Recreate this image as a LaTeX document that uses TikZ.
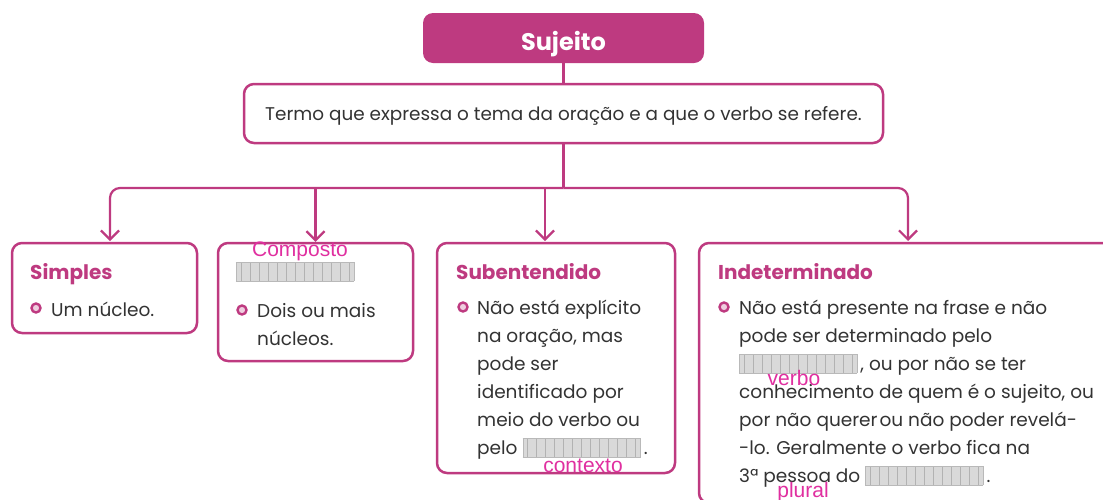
\documentclass[tikz,border=0pt]{standalone}
\usepackage{fontspec}
\setmainfont{Poppins}
\newfontfamily\rotulofont{Liberation Sans}
\usepackage{xcolor}
\usetikzlibrary{arrows.meta}

\definecolor{rosa}{HTML}{BE3A80}
\definecolor{rotulo}{HTML}{E02FA0}
\definecolor{texto}{HTML}{333333}

% lacuna cinza com listras
\newcommand{\lacuna}{\raisebox{-2pt}{\fboxsep=0pt\fboxrule=0.6pt\fcolorbox{gray!55}{gray!30}{\hbox to 117pt{\xleaders\hbox to 9pt{\hss{\color{gray!60}\vrule width .7pt height 18pt}\hss}\hfill}}}}

\begin{document}
\begin{tikzpicture}[x=1pt,y=-1pt]
\tikzset{>={Straight Barb[length=9pt,width=18pt]}}
\tikzstyle{linha}=[draw=rosa,line width=2.2pt]
\tikzstyle{caixa}=[draw=rosa,line width=2.5pt,rounded corners=10pt,fill=white,inner sep=0pt]
\tikzstyle{sujeitobox}=[fill=rosa,rounded corners=10pt,text=white,font=\fontsize{24}{28}\selectfont\bfseries,minimum width=281pt,minimum height=50pt,text height=24pt,text depth=0pt]
\tikzstyle{titulo}=[text=rosa,font=\fontsize{20}{24}\selectfont\bfseries,inner sep=0pt,anchor=base west]
\tikzstyle{corpo}=[text=texto,font=\fontsize{18.5}{28}\selectfont,align=left,inner sep=0pt,anchor=base west]
\tikzstyle{bolinha}=[circle,draw=rosa,line width=2.4pt,fill=rosa!25,minimum size=9pt,inner sep=0pt]
\tikzstyle{rotulo}=[text=rotulo,font=\rotulofont\fontsize{21}{24}\selectfont,inner sep=0pt]

\useasboundingbox (0,0) rectangle (1103,499);
\clip (0,0) rectangle (1103,499);

\node[sujeitobox] (sujeito) at (563.5,38) {Sujeito};
\node[caixa,minimum width=639pt,minimum height=59pt,text=texto,font=\fontsize{18.4}{22}\selectfont,text height=13pt,text depth=0pt] (definicao) at (563.5,113.5) {Termo que expressa o tema da oração e a que o verbo se refere.};

\node[caixa,minimum width=185pt,minimum height=90pt] (simples) at (104.5,288) {};
\node[caixa,minimum width=195pt,minimum height=118pt] (composto) at (315.5,302) {};
\node[caixa,minimum width=238pt,minimum height=230pt] (subentendido) at (556,358) {};
\node[caixa,minimum width=416pt,minimum height=260pt] (indeterminado) at (907,373) {};

% conectores
\coordinate (juncao) at (563.5,188);
\coordinate (setasimples) at (110,241);
\coordinate (setasub) at (545,241);
\coordinate (setaind) at (908,241);
\draw[linha] (sujeito) -- (definicao);
\draw[linha] (definicao) -- (juncao);
\draw[linha,->,rounded corners=10pt] (juncao) -| (setasimples);
\draw[linha,->,rounded corners=10pt] (juncao) -| (setaind);
\draw[linha,->] (composto.north |- juncao) -- (composto.north);
\draw[linha,->] (setasub |- juncao) -- (setasub);

% Simples
\node[titulo] (tsimples) at (30,279) {Simples};
\node[bolinha] (b1) at (36,308) {};
\node[corpo] (csimples) at (51,316) {Um núcleo.};

% Composto
\node[inner sep=0pt] (lcomposto) at (295,271.5) {\lacuna};
\node[rotulo] (rcomposto) at (300,251) {Composto};
\node[bolinha] (b2) at (242,310) {};
\node[corpo] (ccomposto) at (257,345) {Dois ou mais\\núcleos.};

% Subentendido
\node[titulo] (tsub) at (456,279) {Subentendido};
\node[bolinha] (b3) at (463,307) {};
\node[corpo] (csub) at (477,454.5) {Não está explícito\\na oração, mas\\pode ser\\identificado por\\meio do verbo ou\\pelo \lacuna\,.};
\node[rotulo] (rsub) at (583,466) {contexto};

% Indeterminado
\node[titulo] (tind) at (718,279) {Indeterminado};
\node[bolinha] (b4) at (724,307) {};
\node[corpo] (cind) at (739,482.5) {Não está presente na frase e não\\pode ser determinado pelo\\\lacuna\kern3pt, ou por não se ter\\conhecimento de quem é o sujeito, ou\\por não querer\kern2pt ou não poder revelá-\\-lo. Geralmente o verbo fica na\\3ª pessoa do \lacuna\,.};
\node[rotulo] (rverbo) at (794,378) {verbo};
\node[rotulo] (rplural) at (803,492) {plural};
\end{tikzpicture}
\end{document}
